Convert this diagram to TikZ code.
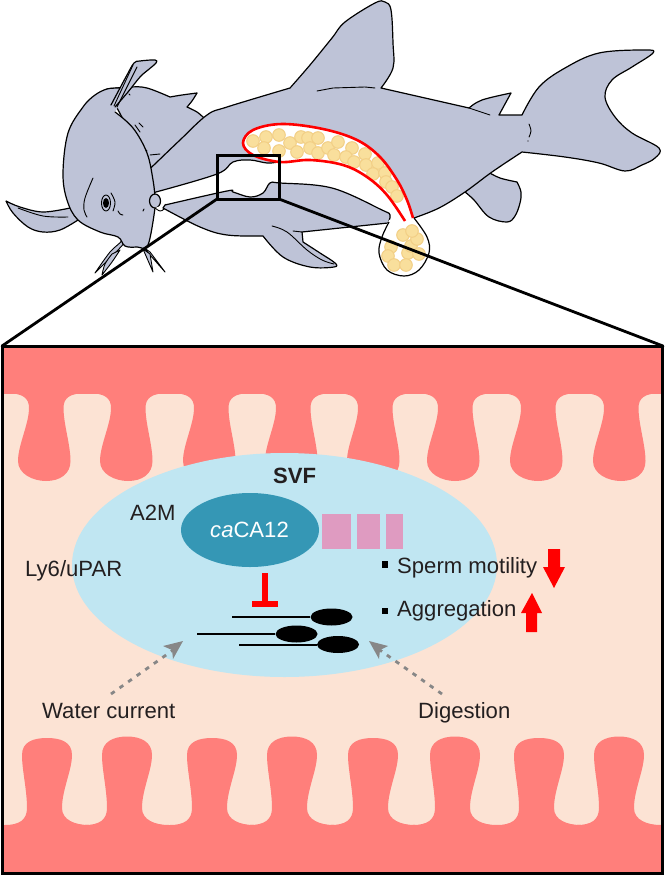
\documentclass[tikz,border=0pt]{standalone}
\usepackage{fontspec}
\setmainfont{Liberation Sans}
\usetikzlibrary{shapes.geometric,arrows.meta}
\definecolor{finskin}{HTML}{BEC3D7}
\definecolor{wallpink}{HTML}{FF7F7B}
\definecolor{lumen}{HTML}{FCE3D4}
\definecolor{fluid}{HTML}{C0E6F2}
\definecolor{enzymeblue}{HTML}{3597B5}
\definecolor{mauve}{HTML}{DF9BC1}
\definecolor{spermfill}{HTML}{F9DF9C}
\definecolor{spermedge}{HTML}{F2CF86}
\definecolor{ink}{HTML}{231F20}
\definecolor{guide}{HTML}{878787}
\tikzset{
  skin/.style={fill=finskin,draw=black,line width=1.2pt,line join=round,line cap=round},
  thinline/.style={draw=black,line width=.9pt,line cap=round},
  duct/.style={draw=red,line width=2.6pt,line cap=butt},
  spermball/.style={fill=spermfill,draw=spermedge,line width=1pt},
  zoomline/.style={draw=black,line width=2.8pt},
  txt/.style={anchor=base west,inner sep=0pt,text=ink,font=\fontsize{22.1}{24}\selectfont},
  peptide/.style={fill=mauve,draw=none,minimum height=35pt,inner sep=0pt,rectangle},
  spermhead/.style={ellipse,fill=black,minimum width=42pt,minimum height=17pt,inner sep=0pt},
  spermtail/.style={draw=black,line width=2pt},
  squarebullet/.style={fill=black,inner sep=0pt,minimum size=6.5pt,rectangle},
  guidearrow/.style={draw=guide,line width=2.8pt,dash pattern=on 4.5pt off 6pt},
  sm/.style={smooth,tension=.6}
}
\begin{document}
\begin{tikzpicture}[x=1pt,y=-1pt]
\useasboundingbox (0,0) rectangle (664,875);
\fill[white] (0,0) rectangle (664,875);

% rear lobe of the head
\path[skin] plot[sm] coordinates {(107,89)(130,87)(147,88)(170,97)} -- plot[sm] coordinates {(170,97)(182,95)(197,93)} -- plot[sm] coordinates {(197,93)(192,101)(187,107)} -- plot[sm] coordinates {(187,107)(197,112)(204,118)} -- (150,170) -- cycle;
% left pectoral fin
\path[skin] plot[sm] coordinates {(6,201)(20,207)(43,212)(70,208)} -- (78,220) -- plot[sm] coordinates {(78,220)(60,230)(43,232)(28,227)(13,213)(6,201)} -- cycle;
\path[thinline] plot[sm] coordinates {(18,208)(43,216)(68,217)};
% anal fin
\path[skin] plot[sm] coordinates {(488,172)(500,178)(517,182)} -- plot[sm] coordinates {(517,182)(521,192)(520,203)(515,216)(507,222)(489,217)(474,200)(465,192)} -- cycle;

% trunk, dorsal fin, adipose fin and tail
\path[skin]
  (138,180) -- (156,163)
  -- plot[sm] coordinates {(156,163)(180,140)(207,115)(227,107)(290,88)}
  -- plot[sm] coordinates {(290,88)(310,65)(332,38)(345,22)(375,3)(385,2)(391,10)(393,43)(393,68)(381,88)}
  -- (469,108)
  -- plot[sm] coordinates {(469,108)(482,100)(511,93)}
  -- (499,115) -- (520,115) -- (522,115)
  -- plot[sm] coordinates {(522,115)(539,87)(565,68)(599,53)(645,50)(653,53)(632,67)(612,80)(605,97)(615,117)(632,133)(659,148)(655,158)(642,165)(625,171)(599,163)(565,157)(522,152)}
  -- plot[sm] coordinates {(522,152)(492,172)(465,192)(439,208)(414,218)}
  -- (405,221)
  -- plot[sm] coordinates {(405,221)(387,195)(367,177)(343,165)(310,160)(280,162)(267,163)(250,160)(233,162)(217,174)(156,192)}
  -- (138,198) -- cycle;
\path[thinline] (317,91) -- (333,88) -- (365,87) -- (375,88);
\path[thinline] (469,108) -- (490,115);
\path[thinline] plot[sm] coordinates {(529,124)(531,131)(529,137)};
\fill (528,141) circle[radius=.6pt];

% barbels
\path[skin,line width=.9pt] plot[sm] coordinates {(117,232)(122,240)(110,252)(95,273)} -- plot[sm] coordinates {(95,273)(108,260)(118,250)(127,240)} -- cycle;
\path[skin,line width=.9pt] plot[sm] coordinates {(112,254)(105,264)(102,275)} -- plot[sm] coordinates {(102,275)(112,262)(120,250)} -- cycle;
\path[skin,line width=.9pt] (143,247) -- (165,272) -- (150,252) -- cycle;
\path[skin,line width=.9pt] (143,249) -- (153,272) -- (150,254) -- cycle;

% head: fill first, then its outline and gill arc as separate strokes
\fill[finskin] plot[sm] coordinates {(155,197)(153,180)(147,153)(133,128)(115,112)} -- (130,87)
  -- plot[sm] coordinates {(130,87)(118,88)(107,89)(95,95)(83,107)(68,133)(63,173)(67,200)(78,220)(100,232)(118,237)(125,246)(137,247)(148,245)(155,208)} -- cycle;
\path[skin,fill=none] plot[sm] coordinates {(130,87)(118,88)(107,89)(95,95)(83,107)(68,133)(63,173)(67,200)(78,220)(100,232)(118,237)(125,246)(137,247)(148,245)(155,208)};
\path[skin,fill=none] plot[sm] coordinates {(155,197)(153,180)(147,153)(133,128)(115,112)};
\path[skin] (155,201) ellipse[x radius=5.5pt,y radius=7pt];
% mouth flap
\path[fill=white,draw=black,line width=.9pt] plot[sm] coordinates {(155,208)(160,211)(164,209)(166,204)};

% dorsal spine
\path[skin] plot[sm] coordinates {(111,105)(120,88)(127,75)(134,63)(140,61)(155,60)(156,63)(148,70)(140,77)(128,92)(115,107)};
\path[thinline] (114,106) -- (133,65);
\path[thinline] (117,107) -- (137,67);

% eye and facial marks
\path[thinline] (106,203) ellipse[x radius=4.5pt,y radius=8pt];
\fill (106,203) ellipse[x radius=3pt,y radius=5pt];
\path[thinline] plot[sm] coordinates {(111,193)(115,202)(113,211)};
\path[thinline] plot[sm] coordinates {(93,178)(85,198)(84,210)(87,217)};
\path[thinline] plot[sm] coordinates {(118,211)(120,214)(123,215)};
\path[thinline] (144,209) -- (143,211);
\path[thinline] (135,125) -- (140,132);
\path[thinline] (139,123) -- (143,127);
\path[thinline] (150,155) -- (160,154);
\path[thinline] (146,150) -- (147,151);
\path[thinline] (129,94) -- (130,95);

% ventral lobe and pelvic fin
\path[skin] (165,205)
  -- plot[sm] coordinates {(165,205)(227,191)(233,192)(250,197)(263,193)(270,183)(280,183)(332,188)(382,210)(390,215)(388,223)}
  -- (302,232) -- (303,242)
  -- plot[sm] coordinates {(303,242)(320,253)(335,263)(334,267)(310,267)(283,257)(263,236)}
  -- plot[sm] coordinates {(263,236)(227,235)(200,227)(163,208)} -- cycle;
\path[thinline] (293,231) -- (302,232);
\path[thinline] plot[sm] coordinates {(272,226)(287,232)(307,250)(322,260)(334,264)};

% sperm duct with white lumen
\fill[white] plot[sm] coordinates {(405,221)(387,195)(367,177)(343,165)(310,160)(280,162)(253,155)(243,143)(253,130)(282,124)(323,129)(357,140)(380,157)(397,180)(407,200)(413,218)} -- (415,222) -- (403,224) -- cycle;

% genital papilla
\fill[white] plot[sm] coordinates {(414,218)(427,237)(429,253)(419,270)(404,276)(387,270)(379,253)(382,237)(389,220)} -- cycle;
\path[draw=black,line width=1.2pt] plot[sm] coordinates {(414,218)(427,237)(429,253)(419,270)(404,276)(387,270)(379,253)(382,237)(389,222)};

% aggregated sperm masses
\foreach \px/\py in {253/141,266/137,279/135,264/148,279/151,290/143,297/152,301/137,308/138,318/138,310/148,318/153,328/148,334/155,338/142,352/148,346/157,354/162,365/154,366/165,378/163,373/174,385/173,386/182,392/187,397/196,
  408/253,391/247,388/256,394/265,406/265,411/246,403/235,419/254,417/239,412/231}
  \path[spermball] (\px,\py) circle[radius=6.3pt];

\path[duct] plot[sm] coordinates {(405,221)(387,195)(367,177)(343,165)(310,160)(280,162)(253,155)(243,143)(253,130)(282,124)(323,129)(357,140)(380,157)(397,180)(407,200)(413,218)};

% magnified section of the seminal vesicle
\fill[lumen] (2,346) rectangle (662,873);
\begin{scope}
\clip (2,346) rectangle (662,873);
\fill[wallpink] (0,346) rectangle (664,393.5);
\foreach \c in {5,87,170,252,334,414,497,580}{
  \pgfmathsetmacro{\d}{\c+82.5}
  \fill[wallpink] (\c,393) .. controls (\c+18,393) and (\c+24,398) .. (\c+24,408)
    .. controls (\c+24,424) and (\c+13,445) .. (\c+13,461)
    .. controls (\c+13,474) and (\c+28,481) .. (\c+41,481)
    .. controls (\c+55,481) and (\d-17,474) .. (\d-17,461)
    .. controls (\d-17,445) and (\d-24,424) .. (\d-24,408)
    .. controls (\d-24,398) and (\d-18,393) .. (\d,393) -- cycle;
}
\fill[wallpink] (0,824.5) rectangle (664,875);
\foreach \p/\t in {47/738,127/736.5,212/738,292/736.5,373/738,455/736.5,539/738,619/736.5}{
  \fill[wallpink] (\p-42,825) .. controls (\p-28,825) and (\p-20,820) .. (\p-20,808)
    .. controls (\p-20,790) and (\p-25,770) .. (\p-25,755)
    .. controls (\p-25,742) and (\p-14,\t) .. (\p,\t)
    .. controls (\p+14,\t) and (\p+25,742) .. (\p+25,755)
    .. controls (\p+25,770) and (\p+15,790) .. (\p+15,808)
    .. controls (\p+15,820) and (\p+28,825) .. (\p+42,825) -- cycle;
}
\end{scope}

% seminal vesicle fluid
\fill[fluid] (284.5,565) ellipse[x radius=212.5pt,y radius=112pt];

\node[ellipse,fill=enzymeblue,minimum width=138pt,minimum height=74pt,inner sep=0pt] (enzyme) at (250,530) {};
\node[txt,text=white] (enzymetext) at (210,537) {\textit{ca}CA12};
\node[peptide,minimum width=29pt] (pepA) at (336.5,531.5) {};
\node[peptide,minimum width=23pt] (pepB) at (368.5,531.5) {};
\node[peptide,minimum width=17pt] (pepC) at (394.5,531.5) {};

\node[txt,font=\fontsize{22.1}{24}\selectfont\bfseries] (svf) at (273,483) {SVF};
\node[txt] (a2m) at (130,520) {A2M};
\node[txt] (ly6) at (25,576) {Ly6/uPAR};
\node[txt] (motility) at (397,573) {Sperm motility};
\node[txt] (aggregation) at (397,616) {Aggregation};
\node[txt] (water) at (42,718) {Water current};
\node[txt] (digestion) at (418,718) {Digestion};
\node[squarebullet] (bulletA) at (385,564.5) {};
\node[squarebullet] (bulletB) at (385,611) {};

% inhibition bar
\coordinate (barTop) at (265,573);
\coordinate (barFoot) at (265,604);
\coordinate (barL) at (252,604);
\coordinate (barR) at (278,604);
\draw[red,line width=6pt] (barTop) -- (barFoot);
\draw[red,line width=6pt] (barL) -- (barR);

% sperm cells
\node[spermhead] (spermA) at (331.5,617) {};
\node[spermhead] (spermB) at (296.5,634) {};
\node[spermhead] (spermC) at (338,644.5) {};
\coordinate (tailA) at (232,617);
\coordinate (tailB) at (197,634);
\coordinate (tailC) at (239,644.5);
\draw[spermtail] (tailA) -- (spermA);
\draw[spermtail] (tailB) -- (spermB);
\draw[spermtail] (tailC) -- (spermC);

% change indicators
\fill[red] (548,549) -- (560,549) -- (560,567) -- (565,567) -- (554,588) -- (543,567) -- (548,567) -- cycle;
\fill[red] (526,632) -- (537,632) -- (537,613) -- (542,613) -- (532,593) -- (521,613) -- (526,613) -- cycle;

% external influences
\coordinate (waterStart) at (111,694);
\coordinate (waterTip) at (176,648);
\coordinate (digestStart) at (442,694);
\coordinate (digestTip) at (377,648);
\draw[guidearrow] (waterStart) -- (waterTip);
\draw[guidearrow] (digestStart) -- (digestTip);
\fill[guide] (183,641) -- (163,646) -- (172,650) -- (173,659) -- cycle;
\fill[guide] (369,641) -- (388,646) -- (380,650) -- (379,659) -- cycle;

% panel frame, field of view and its projection
\draw[black,line width=3pt] (2,346) rectangle (662.5,873);
\coordinate (viewBL) at (217,199);
\coordinate (viewBR) at (279,199);
\coordinate (panelTL) at (2,346);
\coordinate (panelTR) at (663,346);
\draw[zoomline,line cap=round] (viewBL) -- (panelTL);
\draw[zoomline,line cap=round] (viewBR) -- (panelTR);
\draw[black,line width=3pt] (217,155) rectangle (279,199);
\end{tikzpicture}
\end{document}
